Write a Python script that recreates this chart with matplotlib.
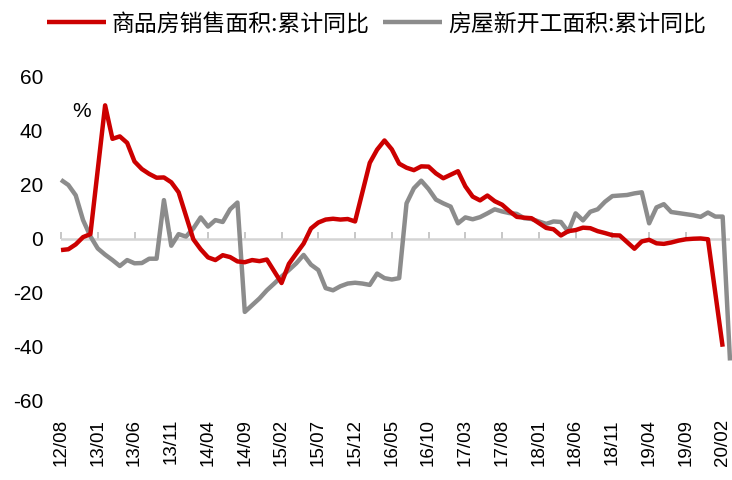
import matplotlib
matplotlib.use('Agg')
import matplotlib.pyplot as plt

# 商品房销售面积:累计同比 (no January points)
sales_months = ['2012-08', '2012-09', '2012-10', '2012-11', '2012-12',
                '2013-02', '2013-03', '2013-04', '2013-05', '2013-06', '2013-07',
                '2013-08', '2013-09', '2013-10', '2013-11', '2013-12',
                '2014-02', '2014-03', '2014-04', '2014-05', '2014-06', '2014-07',
                '2014-08', '2014-09', '2014-10', '2014-11', '2014-12',
                '2015-02', '2015-03', '2015-04', '2015-05', '2015-06', '2015-07',
                '2015-08', '2015-09', '2015-10', '2015-11', '2015-12',
                '2016-02', '2016-03', '2016-04', '2016-05', '2016-06', '2016-07',
                '2016-08', '2016-09', '2016-10', '2016-11', '2016-12',
                '2017-02', '2017-03', '2017-04', '2017-05', '2017-06', '2017-07',
                '2017-08', '2017-09', '2017-10', '2017-11', '2017-12',
                '2018-02', '2018-03', '2018-04', '2018-05', '2018-06', '2018-07',
                '2018-08', '2018-09', '2018-10', '2018-11', '2018-12',
                '2019-02', '2019-03', '2019-04', '2019-05', '2019-06', '2019-07',
                '2019-08', '2019-09', '2019-10', '2019-11', '2019-12',
                '2020-02']
sales_yoy = [-4.1, -3.8, -2.0, 0.7, 1.8,
             49.5, 37.1, 38.0, 35.6, 28.7, 25.9, 24.1, 22.7, 22.8, 21.0, 17.3,
             -0.1, -3.8, -6.8, -7.8, -6.0, -6.7, -8.3, -8.6, -7.8, -8.2, -7.6,
             -16.3, -9.2, -5.4, -1.7, 3.9, 6.1, 7.2, 7.5, 7.2, 7.4, 6.5,
             28.2, 33.1, 36.5, 33.2, 27.9, 26.4, 25.5, 26.9, 26.8, 24.3, 22.5,
             25.1, 19.5, 15.7, 14.3, 16.1, 14.0, 12.7, 10.3, 8.2, 7.9, 7.7,
             4.1, 3.6, 1.3, 2.9, 3.3, 4.2, 4.0, 2.9, 2.2, 1.4, 1.3,
             -3.6, -0.9, -0.3, -1.6, -1.8, -1.3, -0.6, -0.1, 0.1, 0.2, -0.1,
             -39.9]

# 房屋新开工面积:累计同比 (one point per month slot)
starts_yoy = [21.9, 20.0, 16.2, 7.0, 1.0, -3.5, -5.8, -7.8, -10.0, -7.8,
              -9.0, -8.9, -7.3, -7.3, 14.4, -2.5, 1.8, 0.9, 3.9, 8.0,
              4.6, 7.0, 6.3, 11.0, 13.5, -27.0, -24.5, -22.0, -19.0, -16.5,
              -13.9, -11.5, -9.0, -5.9, -9.5, -11.5, -18.2, -19.0, -17.5, -16.5,
              -16.2, -16.5, -17.0, -12.8, -14.5, -15.0, -14.5, 13.2, 18.8, 21.6,
              18.5, 14.6, 13.2, 12.0, 5.8, 8.0, 7.3, 8.1, 9.5, 11.0,
              10.2, 9.6, 9.3, 7.7, 7.4, 6.5, 5.6, 6.5, 6.3, 2.7,
              9.5, 6.9, 10.1, 11.0, 13.8, 15.9, 16.1, 16.3, 16.9, 17.3,
              5.8, 11.7, 12.9, 10.0, 9.6, 9.2, 8.8, 8.2, 9.8, 8.3,
              8.3, -45.0]

tick_labels = ['12/08', '13/01', '13/06', '13/11', '14/04', '14/09', '15/02',
               '15/07', '15/12', '16/05', '16/10', '17/03', '17/08', '18/01',
               '18/06', '18/11', '19/04', '19/09', '20/02']


def month_pos(s):
    y, m = s.split('-')
    return (int(y) - 2012) * 12 + int(m) - 8


sales_x = [month_pos(m) for m in sales_months]
starts_x = list(range(len(starts_yoy)))

plt.rcParams['font.family'] = ['Liberation Sans', 'DejaVu Sans']
plt.rcParams['axes.unicode_minus'] = False

fig = plt.figure(figsize=(7.32, 4.8), dpi=100)
ax = fig.add_axes([61 / 732, 79 / 480, 669 / 732, 324 / 480])

l1, = ax.plot(sales_x, sales_yoy, color='#CC0000', lw=3.2, clip_on=False,
              solid_joinstyle='round', solid_capstyle='butt', zorder=3)
l2, = ax.plot(starts_x, starts_yoy, color='#8C8C8C', lw=3.2, clip_on=False,
              solid_joinstyle='round', solid_capstyle='butt', zorder=2)

ax.set_xlim(0, 91)
ax.set_ylim(-60, 60)
ax.set_yticks(range(-60, 61, 20))
ax.set_xticks(range(0, 91, 5))
ax.set_xticklabels(tick_labels, rotation=90)
ax.tick_params(axis='x', length=0, pad=13, labelsize=13.5)
ax.tick_params(axis='y', length=0, pad=13, labelsize=15)
for s in ax.spines.values():
    s.set_visible(False)

# zero line with small tick marks
ax.axhline(0, color='#D4D4D4', lw=1.8, zorder=1)
zax = ax.secondary_xaxis(0.5)
for s in zax.spines.values():
    s.set_visible(False)
zax.set_xticks(range(0, 91, 5))
zax.set_xticklabels([''] * 19)
zax.xaxis.set_ticks_position('bottom')
zax.tick_params(axis='x', which='major', direction='in', length=5, width=1.2,
                color='#BDBDBD', bottom=True, top=False,
                labelbottom=False, labeltop=False)

ax.text(0.031, 0.892, '%', transform=ax.transAxes, fontsize=15,
        ha='center', va='center')

fig.legend([l1, l2], ['商品房销售面积:累计同比', '房屋新开工面积:累计同比'],
           loc='center', bbox_to_anchor=(0.514, 1 - 24 / 480), ncol=2,
           frameon=False, handlelength=2.6, handletextpad=0.25,
           columnspacing=0.55, prop={'family': ['Noto Sans CJK SC', 'DejaVu Sans'],
                                     'size': 16.5})

fig.savefig('out.png', dpi=100)
